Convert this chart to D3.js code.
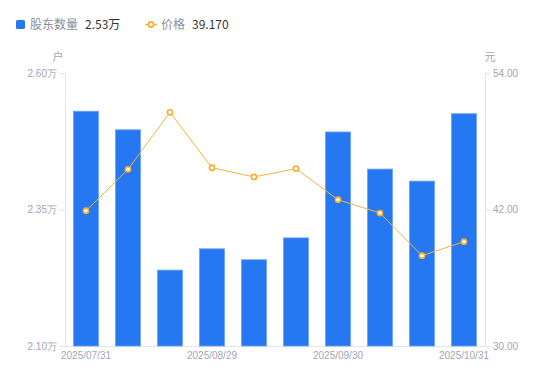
<!DOCTYPE html>
<html>
<head>
<meta charset="utf-8">
<script src="https://cdn.jsdelivr.net/npm/d3@7"></script>
<style>
  body { margin: 0; background: #fff; }
  svg { font-family: "Noto Sans CJK SC", "Liberation Sans", Arial, sans-serif; }
</style>
</head>
<body>
<div class="container"></div>
<script>
// data
var dates = ['2025/07/31', '2025/08/10', '2025/08/20', '2025/08/29', '2025/09/10',
             '2025/09/19', '2025/09/30', '2025/10/10', '2025/10/20', '2025/10/31'];
var holders = [2.530, 2.496, 2.239, 2.278, 2.258, 2.298, 2.492, 2.424, 2.402, 2.5254];
var prices = [41.89, 45.53, 50.54, 45.67, 44.86, 45.59, 42.86, 41.69, 37.94, 39.17];
var shownDates = ['2025/07/31', '2025/08/29', '2025/09/30', '2025/10/31'];
var leftTicks = [2.10, 2.35, 2.60];
var rightTicks = [30, 42, 54];

var width = 550, height = 381;
var margin = { top: 73, right: 65, bottom: 35, left: 65 };
var axisColor = '#e3e4e8', labelColor = '#a3a5b3';

var svg = d3.select('.container').append('svg')
    .attr('width', width).attr('height', height);

var x = d3.scaleBand().domain(dates)
    .range([margin.left, width - margin.right]).paddingInner(0.4).paddingOuter(0.2);
var yL = d3.scaleLinear().domain([2.10, 2.60]).range([height - margin.bottom, margin.top]);
var yR = d3.scaleLinear().domain([30, 54]).range([height - margin.bottom, margin.top]);

// axes
var left = svg.append('g').attr('transform', 'translate(' + margin.left + ',0)')
    .call(d3.axisLeft(yL).tickValues(leftTicks).tickSize(5).tickPadding(3)
        .tickFormat(function (d) { return d.toFixed(2) + '万'; }));
var right = svg.append('g').attr('transform', 'translate(' + (width - margin.right) + ',0)')
    .call(d3.axisRight(yR).tickValues(rightTicks).tickSize(5).tickPadding(3)
        .tickFormat(function (d) { return d.toFixed(2); }));
var bottom = svg.append('g').attr('transform', 'translate(0,' + (height - margin.bottom) + ')')
    .call(d3.axisBottom(x).tickValues(shownDates).tickSize(0).tickPadding(6));

[left, right, bottom].forEach(function (g) {
    g.select('.domain').attr('stroke', axisColor);
    g.selectAll('.tick line').attr('stroke', axisColor);
    g.selectAll('.tick text').attr('fill', labelColor).style('font-size', '10px')
        .style('font-family', '"Liberation Sans", Arial, sans-serif');
});

// units
svg.append('text').attr('x', 58).attr('y', 61).attr('text-anchor', 'middle')
    .attr('fill', labelColor).style('font-size', '11px').text('户');
svg.append('text').attr('x', 490).attr('y', 61).attr('text-anchor', 'middle')
    .attr('fill', labelColor).style('font-size', '11px').text('元');

// bars
svg.selectAll('rect.bar')
   .data(holders)
   .enter()
   .append('rect')
   .attr('class', 'bar')
   .attr('x', function (d, i) { return x(dates[i]); })
   .attr('width', x.bandwidth())
   .attr('y', function (d) { return yL(d); })
   .attr('height', function (d) { return yL(2.10) - yL(d); })
   .attr('fill', '#2677f2')
   .attr('stroke', '#6ea3f6')
   .attr('stroke-width', 0.8);

// price line
var line = d3.line()
    .x(function (d, i) { return x(dates[i]) + x.bandwidth() / 2; })
    .y(function (d) { return yR(d); });

svg.append('path').datum(prices)
   .attr('d', line)
   .attr('fill', 'none')
   .attr('stroke', '#f8b33c')
   .attr('stroke-width', 1);

svg.selectAll('circle.pt')
   .data(prices)
   .enter()
   .append('circle')
   .attr('class', 'pt')
   .attr('cx', function (d, i) { return x(dates[i]) + x.bandwidth() / 2; })
   .attr('cy', function (d) { return yR(d); })
   .attr('r', 2.6)
   .attr('fill', '#fff')
   .attr('stroke', '#f8ac2e')
   .attr('stroke-width', 1.6);

// legend
var lg = svg.append('g');
lg.append('rect').attr('x', 16).attr('y', 20).attr('width', 9).attr('height', 9)
    .attr('rx', 1.5).attr('fill', '#2677f2');
lg.append('text').attr('x', 30).attr('y', 29).attr('fill', '#8c8e99')
    .style('font-size', '12px').text('股东数量');
lg.append('text').attr('x', 85).attr('y', 29).attr('fill', '#333')
    .style('font-size', '12px').text(holders[holders.length - 1].toFixed(2) + '万');

lg.append('line').attr('x1', 145).attr('x2', 157).attr('y1', 24.5).attr('y2', 24.5)
    .attr('stroke', '#f8b33c').attr('stroke-width', 1.5);
lg.append('circle').attr('cx', 151).attr('cy', 24.5).attr('r', 2.6)
    .attr('fill', '#fff').attr('stroke', '#f8ac2e').attr('stroke-width', 1.6);
lg.append('text').attr('x', 161).attr('y', 29).attr('fill', '#8c8e99')
    .style('font-size', '12px').text('价格');
lg.append('text').attr('x', 192).attr('y', 29).attr('fill', '#333')
    .style('font-size', '12px').text(prices[prices.length - 1].toFixed(3));
</script>
</body>
</html>
